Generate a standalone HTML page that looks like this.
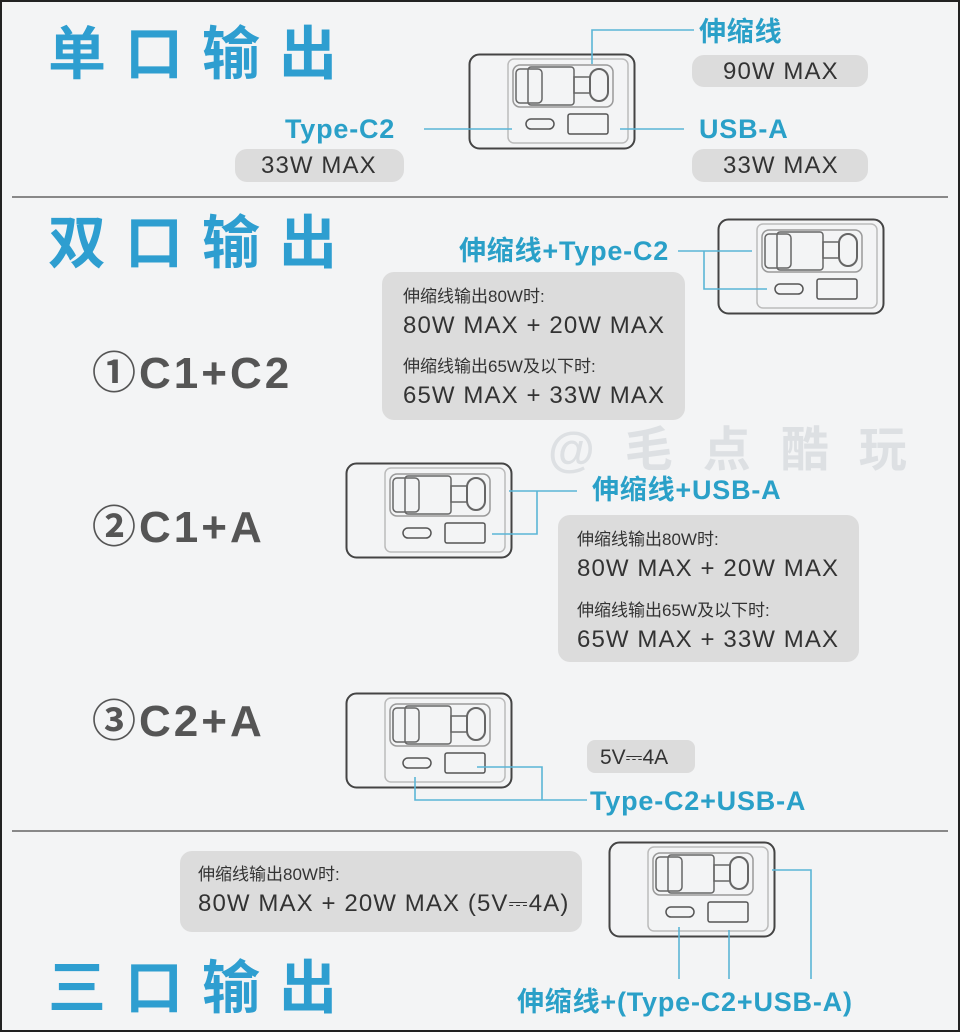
<!DOCTYPE html>
<html><head><meta charset="utf-8"><style>
body{margin:0;width:960px;height:1032px;overflow:hidden;background:#fff;}
#c{position:relative;width:956px;height:1028px;border:2px solid #222;background:#f3f4f5;font-family:"Liberation Sans","Noto Sans CJK SC",sans-serif;}
.a{position:absolute;white-space:nowrap;}
.h{font-size:58px;font-weight:bold;color:#2e9ed0;letter-spacing:19px;line-height:1;}
.n{font-size:44px;font-weight:bold;color:#555;line-height:1;letter-spacing:3px;}
.bl{font-size:27px;color:#2aa0c8;font-weight:bold;line-height:1;letter-spacing:0.8px;}
.g{background:#dcdcdc;border-radius:12px;color:#333;}
.t{font-size:24px;color:#333;line-height:1;letter-spacing:1.1px;}
.s{font-size:17px;color:#333;line-height:1;}
svg.d{position:absolute;}
</style></head><body><div id="c">
<svg width="0" height="0" style="position:absolute"><defs>
<g id="dev" fill="none">
<rect x="1.5" y="1.5" width="165" height="94" rx="10" stroke="#444" stroke-width="2"/>
<rect x="40" y="6" width="120" height="84" rx="6" stroke="#bbb" stroke-width="1.5"/>
<rect x="45" y="12" width="100" height="42" rx="7" stroke="#999" stroke-width="1.5"/>
<rect x="48" y="16" width="26" height="34" rx="4" stroke="#666" stroke-width="1.5"/>
<rect x="60" y="14" width="46" height="38" rx="3" stroke="#666" stroke-width="1.5"/>
<rect x="106" y="24" width="16" height="16" stroke="#666" stroke-width="1.5"/>
<rect x="122" y="16" width="18" height="32" rx="9" stroke="#666" stroke-width="2"/>
<rect x="58" y="66" width="28" height="10" rx="5" stroke="#555" stroke-width="1.5"/>
<rect x="100" y="61" width="40" height="20" rx="2" stroke="#555" stroke-width="1.5"/>
</g></defs></svg>
<div class="a" style="left:10px;top:194px;width:936px;height:2px;background:#888"></div>
<div class="a" style="left:10px;top:828px;width:936px;height:2px;background:#888"></div>

<div class="a h" style="left:46px;top:24px">单口输出</div>
<div class="a h" style="left:46px;top:213px">双口输出</div>
<div class="a h" style="left:46px;top:958px">三口输出</div>

<div class="a n" style="left:90px;top:350px">①C1+C2</div>
<div class="a n" style="left:90px;top:504px">②C1+A</div>
<div class="a n" style="left:90px;top:698px">③C2+A</div>
<div class="a" style="left:546px;top:408px;font-size:48px;font-weight:bold;color:#dde0e3;letter-spacing:30px">@毛点酷玩</div>

<!-- section 1 -->
<svg class="d" style="left:466px;top:51px" width="168" height="97"><use href="#dev"/></svg>
<div class="a bl" style="left:697px;top:17px">伸缩线</div>
<div class="a g" style="left:690px;top:53px;width:176px;height:32px"></div>
<div class="a t" style="left:721px;top:58px">90W MAX</div>
<div class="a bl" style="left:283px;top:114px">Type-C2</div>
<div class="a g" style="left:233px;top:147px;width:169px;height:33px"></div>
<div class="a t" style="left:259px;top:152px">33W MAX</div>
<div class="a bl" style="left:697px;top:114px">USB-A</div>
<div class="a g" style="left:690px;top:147px;width:176px;height:33px"></div>
<div class="a t" style="left:721px;top:152px">33W MAX</div>

<!-- section 2 -->
<svg class="d" style="left:715px;top:216px" width="168" height="97"><use href="#dev"/></svg>
<div class="a bl" style="left:457px;top:236px">伸缩线+Type-C2</div>
<div class="a g" style="left:380px;top:270px;width:303px;height:148px"></div>
<div class="a s" style="left:401px;top:286px">伸缩线输出80W时:</div>
<div class="a t" style="left:401px;top:312px">80W MAX + 20W MAX</div>
<div class="a s" style="left:401px;top:356px">伸缩线输出65W及以下时:</div>
<div class="a t" style="left:401px;top:382px">65W MAX + 33W MAX</div>

<svg class="d" style="left:343px;top:460px" width="168" height="97"><use href="#dev"/></svg>
<div class="a bl" style="left:590px;top:475px">伸缩线+USB-A</div>
<div class="a g" style="left:556px;top:513px;width:301px;height:147px"></div>
<div class="a s" style="left:575px;top:529px">伸缩线输出80W时:</div>
<div class="a t" style="left:575px;top:555px">80W MAX + 20W MAX</div>
<div class="a s" style="left:575px;top:600px">伸缩线输出65W及以下时:</div>
<div class="a t" style="left:575px;top:626px">65W MAX + 33W MAX</div>

<svg class="d" style="left:343px;top:690px" width="168" height="97"><use href="#dev"/></svg>
<div class="a g" style="left:585px;top:738px;width:108px;height:33px;border-radius:8px"></div>
<div class="a" style="left:598px;top:744px;font-size:21px;color:#333">5V⎓4A</div>
<div class="a bl" style="left:588px;top:786px">Type-C2+USB-A</div>

<!-- section 3 -->
<svg class="d" style="left:606px;top:839px" width="168" height="97"><use href="#dev"/></svg>
<div class="a g" style="left:178px;top:849px;width:402px;height:81px"></div>
<div class="a s" style="left:196px;top:864px">伸缩线输出80W时:</div>
<div class="a t" style="left:196px;top:890px">80W MAX + 20W MAX (5V⎓4A)</div>
<div class="a bl" style="left:515px;top:987px">伸缩线+(Type-C2+USB-A)</div>

<svg class="d" style="left:0;top:0" width="956" height="1028" fill="none" stroke="#5bb5d6" stroke-width="1.6">
<polyline points="590,62 590,28 692,28"/>
<line x1="422" y1="127" x2="510" y2="127"/>
<line x1="618" y1="127" x2="682" y2="127"/>
<polyline points="676,249 750,249"/>
<polyline points="702,249 702,287 765,287"/>
<line x1="507" y1="489" x2="575" y2="489"/>
<polyline points="535,489 535,532 490,532"/>
<polyline points="413,775 413,798 585,798"/>
<polyline points="475,765 540,765 540,798"/>
<line x1="677" y1="925" x2="677" y2="977"/>
<line x1="727" y1="928" x2="727" y2="977"/>
<polyline points="770,868 809,868 809,977"/>
</svg>
</div></body></html>
